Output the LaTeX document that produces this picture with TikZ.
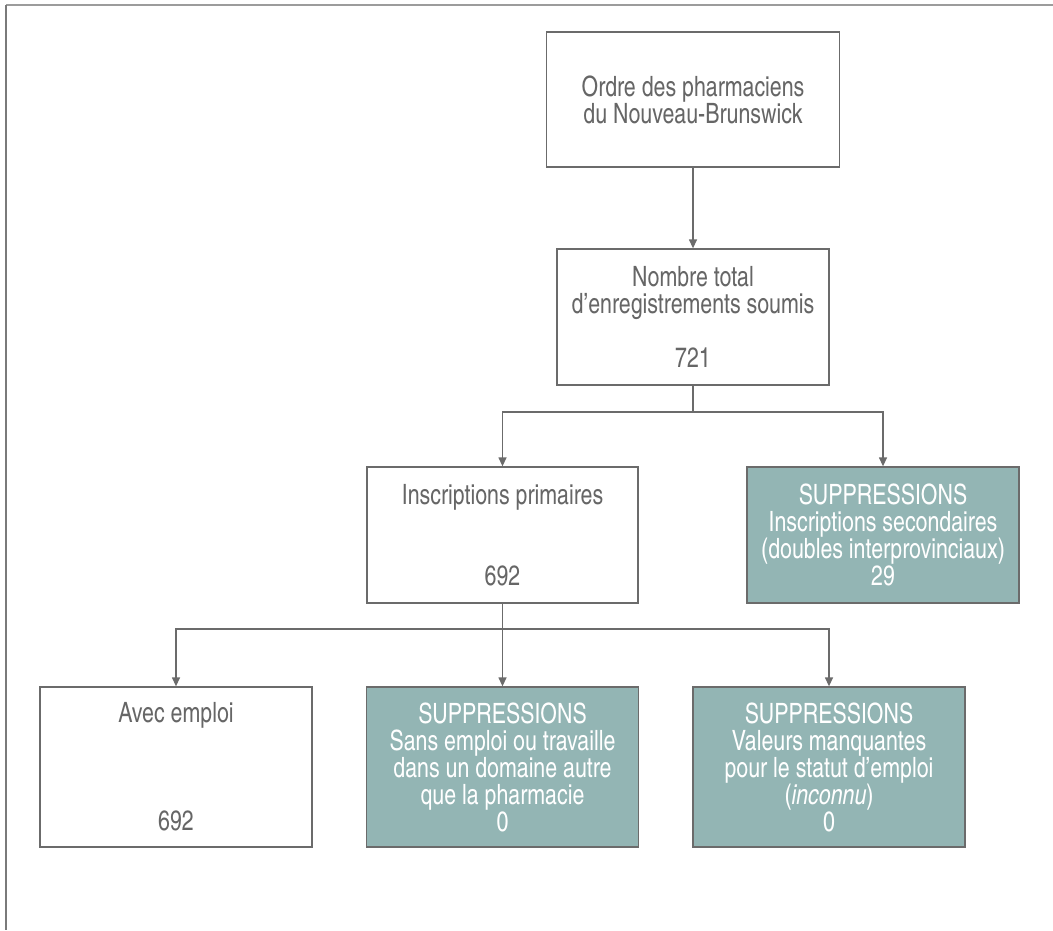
\documentclass[tikz,border=0pt]{standalone}
\usepackage{fontspec}
\setmainfont{texgyreheroscn-regular.otf}[ItalicFont=texgyreheroscn-italic.otf, FakeStretch=0.93]
\usetikzlibrary{arrows.meta}
\definecolor{linegray}{HTML}{6B6B6B}
\definecolor{txtgray}{HTML}{666666}
\definecolor{tealbox}{HTML}{93B5B4}
\definecolor{frametop}{HTML}{9C9C9C}
\definecolor{frameleft}{HTML}{7A7A7A}
\begin{document}
\begin{tikzpicture}[x=1pt,y=-1pt,
  box/.style={draw=linegray, line width=1.3pt, fill=white, text=txtgray, align=center,
    font=\fontsize{28}{27}\selectfont, inner sep=0pt, minimum width=272pt, minimum height=136pt},
  supbox/.style={box, fill=tealbox, text=white},
  tall/.style={minimum height=160pt},
  conn/.style={draw=linegray, line width=1.3pt},
  arr/.style={conn, -{Triangle[width=8pt,length=9pt]}}]
\useasboundingbox (0,0) rectangle (1053,930);
\draw[frametop, line width=1.5pt] (6,5) -- (1053,5);
\draw[frameleft, line width=1.5pt] (6,5) -- (6,930);

\node[box, minimum width=293pt, minimum height=135pt] (b1) at (693,99.5) {Ordre des pharmaciens\\du Nouveau-Brunswick};
\node[box] (b2) at (693,317) {Nombre total\\d’enregistrements soumis\\[27pt]721};
\node[box, minimum width=271pt] (b3) at (502.5,535) {Inscriptions primaires\\[54pt]692};
\node[supbox] (b4) at (883,535) {SUPPRESSIONS\\Inscriptions secondaires\\(doubles interprovinciaux)\\29};
\node[box, tall] (b5) at (176,767) {Avec emploi\\[81pt]692};
\node[supbox, tall] (b6) at (502.5,767) {SUPPRESSIONS\\Sans emploi ou travaille\\dans un domaine autre\\que la pharmacie\\0};
\node[supbox, tall] (b7) at (829,767) {SUPPRESSIONS\\Valeurs manquantes\\pour le statut d’emploi\\(\textit{inconnu})\\0};

\draw[arr] (b1.south) -- (b2.north);
\coordinate (j1) at (693,412);
\draw[conn] (b2.south) -- (j1);
\draw[arr] (j1) -| (b3.north);
\draw[arr] (j1) -| (b4.north);
\coordinate (j2) at (502.5,629);
\draw[conn] (b3.south) -- (j2);
\draw[arr] (j2) -| (b5.north);
\draw[arr] (j2) -- (b6.north);
\draw[arr] (j2) -| (b7.north);
\end{tikzpicture}
\end{document}
